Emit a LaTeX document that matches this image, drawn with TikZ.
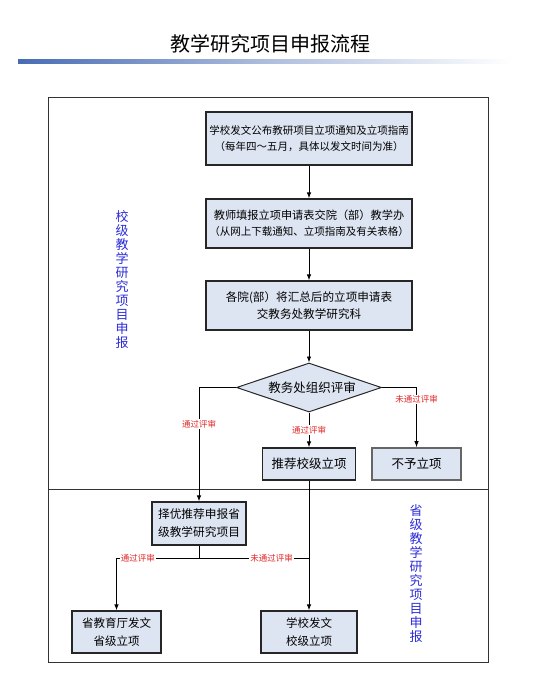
\documentclass[tikz,border=0pt]{standalone}
\usepackage{fontspec}
\setmainfont{Noto Sans CJK SC}
\usetikzlibrary{arrows.meta,shapes.geometric}
\definecolor{boxfill}{RGB}{222,229,242}
\definecolor{sideblue}{RGB}{45,45,215}
\definecolor{lblred}{RGB}{225,40,40}
\definecolor{barblue}{RGB}{72,108,180}
\tikzset{
  box/.style={draw=black!85, line width=1.2pt, fill=boxfill, align=center, inner sep=0pt, font=\fontsize{10.5}{16}\selectfont},
  bigbox/.style={box, font=\fontsize{12}{17}\selectfont},
  arr/.style={-{Latex[length=6pt,width=4.5pt]}, line width=0.9pt, black},
  ln/.style={line width=0.9pt, black},
  lbl/.style={fill=white, text=lblred, inner sep=1pt, font=\fontsize{8.5}{9}\selectfont},
  side/.style={text=sideblue, align=center, font=\fontsize{13}{14}\selectfont, inner sep=0pt}
}
\begin{document}
\begin{tikzpicture}[x=1pt,y=-1pt]
\useasboundingbox (0,0) rectangle (537,676);
% title
\node (title) at (270,44) {\fontsize{20}{22}\selectfont 教学研究项目申报流程};
\shade[left color=barblue, right color=white, middle color=barblue!45] (18,60) rectangle (512,64);
% frame
\draw[line width=1pt, black!80] (48,98) rectangle (488,662);
\draw[line width=1pt, black!80] (48,489) -- (488,489);
% side labels
\node[side] (s1) at (122,280) {校\\级\\教\\学\\研\\究\\项\\目\\申\\报};
\node[side] (s2) at (416,574) {省\\级\\教\\学\\研\\究\\项\\目\\申\\报};
% boxes
\node[box, minimum width=206pt, minimum height=53pt] (b1) at (309,138.5) {学校发文公布教研项目立项通知及立项指南\\（每年四～五月，具体以发文时间为准）};
\node[box, minimum width=206pt, minimum height=49pt] (b2) at (309,223.5) {{\fontsize{11.2}{16}\selectfont 教师填报立项申请表交院（部）教学办}\\（从网上下载通知、立项指南及有关表格）};
\node[bigbox, font=\fontsize{11.6}{17}\selectfont, minimum width=206pt, minimum height=49pt] (b3) at (309,305.5) {各院(部）将汇总后的立项申请表\\交教务处教学研究科};
\node[draw=black!85, line width=1pt, fill=boxfill, diamond, aspect=2.96, minimum width=145pt, minimum height=49pt, inner sep=0pt, font=\fontsize{12.5}{14}\selectfont] (dia) at (309,387.5) {\hspace{6pt}教务处组织评审};
\node[bigbox, font=\fontsize{12.5}{14}\selectfont, minimum width=93pt, minimum height=32pt] (rec) at (309,464) {推荐校级立项};
\node[bigbox, draw=black!60, line width=1.6pt, font=\fontsize{12.5}{14}\selectfont, minimum width=89pt, minimum height=32pt] (no) at (416.5,464) {不予立项};
\node[bigbox, font=\fontsize{11.7}{18}\selectfont, minimum width=94pt, minimum height=43pt] (zy) at (199,523.5) {择优推荐申报省\\级教学研究项目};
\node[bigbox, font=\fontsize{11.5}{18}\selectfont, minimum width=89pt, minimum height=42pt] (sj) at (116.5,632) {省教育厅发文\\省级立项};
\node[bigbox, font=\fontsize{11.5}{18}\selectfont, minimum width=96pt, minimum height=42pt] (xj) at (309,632) {学校发文\\校级立项};
% connectors
\draw[arr] (b1) -- (b2);
\draw[arr] (b2) -- (b3);
\draw[arr] (b3) -- (dia);
\draw[arr] (dia.south) -- node[lbl] {通过评审} (rec.north);
\draw[arr] (dia.west) -| node[lbl, pos=0.66] {通过评审} (zy.north);
\draw[arr] (dia.east) -| node[lbl, pos=0.6] {未通过评审} (no.north);
\draw[arr] (rec.south) -- (xj.north);
\coordinate (j) at (199,558);
\draw[ln] (zy.south) -- (j);
\draw[arr] (j) -| node[lbl, pos=0.37] {通过评审} (sj.north);
\draw[ln] (j) -- node[lbl, pos=0.66] {未通过评审} (j -| xj.north);
\end{tikzpicture}
\end{document}
